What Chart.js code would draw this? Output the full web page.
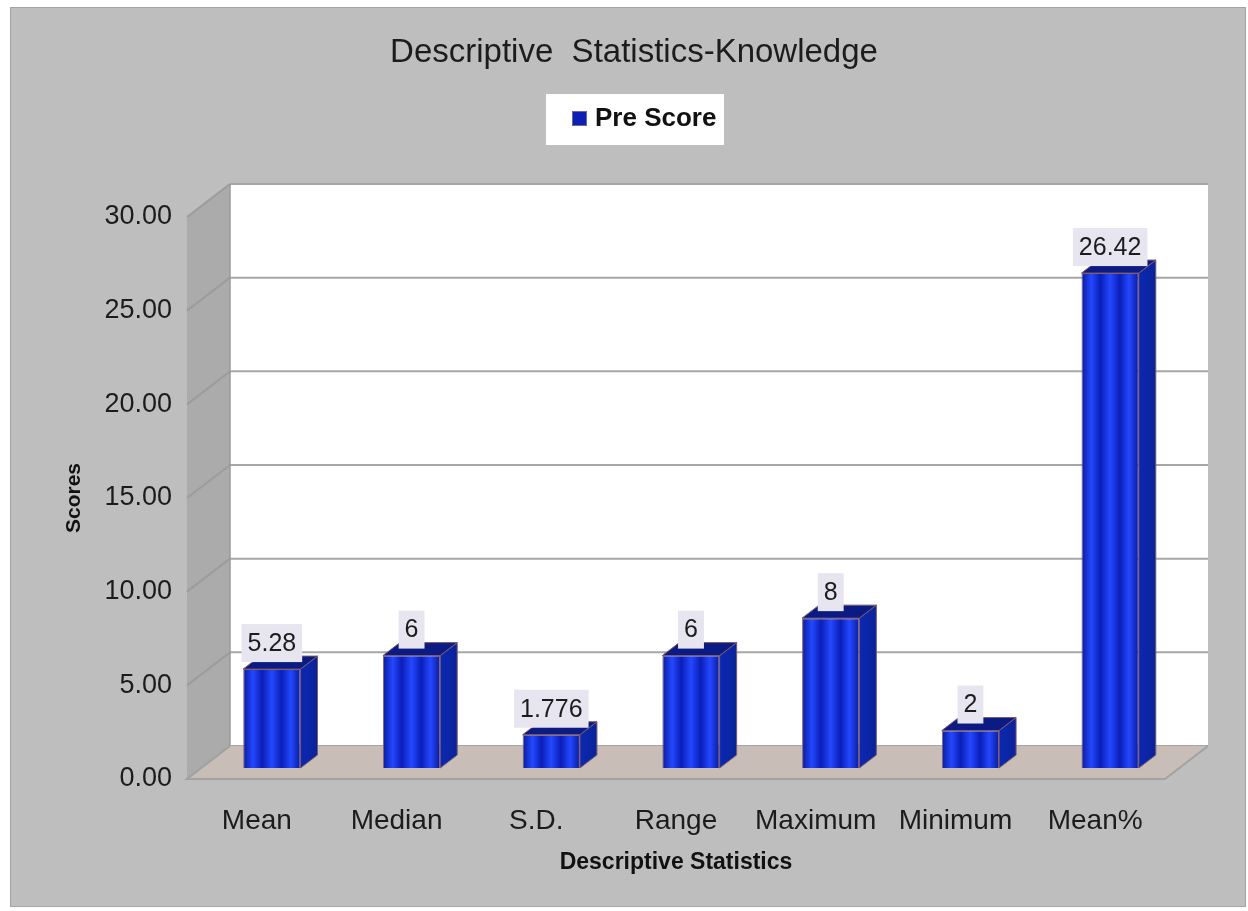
<!DOCTYPE html>
<html>
<head>
<meta charset="utf-8">
<title>Descriptive Statistics-Knowledge</title>
<script src="https://cdn.jsdelivr.net/npm/chart.js@4.4.1/dist/chart.umd.min.js"></script>
<style>
  html, body { margin: 0; padding: 0; background: #ffffff; }
  #wrap { width: 1248px; height: 911px; position: relative; }
</style>
</head>
<body>
<div id="wrap"><canvas id="chart"></canvas></div>
<script>
// ---- data ----
const categories = ['Mean', 'Median', 'S.D.', 'Range', 'Maximum', 'Minimum', 'Mean%'];
const preScore = [5.28, 6, 1.776, 6, 8, 2, 26.42];
const seriesName = 'Pre Score';
const yTickValues = [0, 5, 10, 15, 20, 25, 30];
const chartTitle = 'Descriptive  Statistics-Knowledge';
const xAxisTitle = 'Descriptive Statistics';
const yAxisTitle = 'Scores';

// ---- 3D look ----
const WALL_DX = 43, WALL_DY = 33;   // depth of the back wall behind the axis plane
const BAR_DX = 15, BAR_DY = 11;     // where the bar fronts sit inside the depth
const SIDE_DX = 17, SIDE_DY = 13;   // bar thickness
const BAR_PCT = 0.41;
const SANS = '"Liberation Sans", Arial, sans-serif';

function stripeFill(c) {
  const chart = c.chart;
  const xs = chart.scales && chart.scales.x;
  if (!xs || c.dataIndex === undefined) return '#1230d8';
  const cx = xs.getPixelForValue(c.dataIndex);
  const w = (xs.width / categories.length) * BAR_PCT;
  if (!isFinite(cx) || !isFinite(w) || w <= 0) return '#1230d8';
  const g = chart.ctx.createLinearGradient(cx - w / 2, 0, cx + w / 2, 0);
  g.addColorStop(0.00, '#0a1a9c');
  g.addColorStop(0.17, '#2448ff');
  g.addColorStop(0.33, '#0a1eb8');
  g.addColorStop(0.50, '#2448ff');
  g.addColorStop(0.67, '#0a1eb8');
  g.addColorStop(0.83, '#2448ff');
  g.addColorStop(1.00, '#0a1a9c');
  return g;
}

const depthPlugin = {
  id: 'depth3d',
  beforeDraw(chart) {
    const { ctx, width, height } = chart;
    ctx.save();
    ctx.fillStyle = '#ffffff';
    ctx.fillRect(0, 0, width, height);
    ctx.fillStyle = '#bebebe';
    ctx.fillRect(10, 7, 1236, 900);
    ctx.strokeStyle = '#a4a4a4';
    ctx.lineWidth = 1;
    ctx.strokeRect(10.5, 7.5, 1235, 899);

    // chart title
    ctx.fillStyle = '#1c1c1c';
    ctx.font = '33px ' + SANS;
    ctx.textAlign = 'center';
    ctx.textBaseline = 'middle';
    ctx.fillText(chartTitle, 634, 53);

    // legend box
    ctx.fillStyle = '#ffffff';
    ctx.fillRect(546, 94, 178, 51);
    ctx.fillStyle = '#0d1fb4';
    ctx.fillRect(572, 111, 15, 15);
    ctx.strokeStyle = '#6a6a9a';
    ctx.strokeRect(572.5, 111.5, 14, 14);
    ctx.fillStyle = '#111111';
    ctx.font = 'bold 26px ' + SANS;
    ctx.textAlign = 'left';
    ctx.fillText(seriesName, 595, 119);
    ctx.restore();
  },
  beforeDatasetsDraw(chart) {
    const { ctx, chartArea: a, scales: { y } } = chart;
    const top = y.getPixelForValue(30), bot = y.getPixelForValue(0);
    ctx.save();
    // side wall
    ctx.fillStyle = '#ababab';
    ctx.beginPath();
    ctx.moveTo(a.left, top);
    ctx.lineTo(a.left + WALL_DX, top - WALL_DY);
    ctx.lineTo(a.left + WALL_DX, bot - WALL_DY);
    ctx.lineTo(a.left, bot);
    ctx.closePath();
    ctx.fill();
    // back wall
    ctx.fillStyle = '#ffffff';
    ctx.fillRect(a.left + WALL_DX, top - WALL_DY, a.right - a.left, bot - top);
    // grid lines on both walls
    ctx.lineWidth = 2;
    yTickValues.forEach(v => {
      const py = y.getPixelForValue(v);
      ctx.strokeStyle = '#9c9c9c';
      ctx.beginPath();
      ctx.moveTo(a.left, py);
      ctx.lineTo(a.left + WALL_DX, py - WALL_DY);
      ctx.stroke();
      ctx.strokeStyle = '#a6a6a6';
      ctx.beginPath();
      ctx.moveTo(a.left + WALL_DX, py - WALL_DY);
      ctx.lineTo(a.right + WALL_DX, py - WALL_DY);
      ctx.stroke();
    });
    // wall edge
    ctx.strokeStyle = '#9a9a9a';
    ctx.lineWidth = 1.5;
    ctx.beginPath();
    ctx.moveTo(a.left + WALL_DX, top - WALL_DY);
    ctx.lineTo(a.left + WALL_DX, bot - WALL_DY);
    ctx.stroke();
    // floor
    ctx.fillStyle = '#c9bdb8';
    ctx.beginPath();
    ctx.moveTo(a.left, bot);
    ctx.lineTo(a.left + WALL_DX, bot - WALL_DY);
    ctx.lineTo(a.right + WALL_DX, bot - WALL_DY);
    ctx.lineTo(a.right, bot);
    ctx.closePath();
    ctx.fill();
    ctx.strokeStyle = '#a2a2a2';
    ctx.lineWidth = 2;
    ctx.beginPath();
    ctx.moveTo(a.left + WALL_DX, bot - WALL_DY);
    ctx.lineTo(a.left, bot);
    ctx.lineTo(a.right, bot);
    ctx.lineTo(a.right + WALL_DX, bot - WALL_DY);
    ctx.stroke();
    ctx.restore();

    // bars sit part-way into the depth
    ctx.save();
    ctx.translate(BAR_DX, -BAR_DY);
  },
  afterDatasetsDraw(chart) {
    const { ctx } = chart;
    const meta = chart.getDatasetMeta(0);
    meta.data.forEach(el => {
      const l = el.x - el.width / 2, r = el.x + el.width / 2;
      // right side
      const sg = ctx.createLinearGradient(r, 0, r + SIDE_DX, 0);
      sg.addColorStop(0, '#0c28b4');
      sg.addColorStop(1, '#0a2398');
      ctx.fillStyle = sg;
      ctx.beginPath();
      ctx.moveTo(r, el.y);
      ctx.lineTo(r + SIDE_DX, el.y - SIDE_DY);
      ctx.lineTo(r + SIDE_DX, el.base - SIDE_DY);
      ctx.lineTo(r, el.base);
      ctx.closePath();
      ctx.fill();
      ctx.strokeStyle = '#7a5a6a';
      ctx.lineWidth = 1;
      ctx.stroke();
      // top
      ctx.fillStyle = '#0c1b84';
      ctx.beginPath();
      ctx.moveTo(l, el.y);
      ctx.lineTo(l + SIDE_DX, el.y - SIDE_DY);
      ctx.lineTo(r + SIDE_DX, el.y - SIDE_DY);
      ctx.lineTo(r, el.y);
      ctx.closePath();
      ctx.fill();
      ctx.stroke();
    });
    ctx.restore();

    // value labels
    ctx.save();
    ctx.font = '25px ' + SANS;
    ctx.textAlign = 'center';
    ctx.textBaseline = 'middle';
    meta.data.forEach((el, i) => {
      const text = String(preScore[i]);
      const cx = el.x + BAR_DX;
      const cy = el.y - BAR_DY - 26;
      const w = ctx.measureText(text).width + 12;
      ctx.fillStyle = '#e7e5ef';
      ctx.fillRect(cx - w / 2, cy - 19, w, 38);
      ctx.fillStyle = '#1c1c1c';
      ctx.fillText(text, cx, cy + 1);
    });
    ctx.restore();
  }
};

new Chart(document.getElementById('chart'), {
  type: 'bar',
  data: {
    labels: categories,
    datasets: [{
      label: seriesName,
      data: preScore,
      backgroundColor: stripeFill,
      borderColor: '#8a6466',
      borderWidth: 1,
      barPercentage: BAR_PCT,
      categoryPercentage: 1
    }]
  },
  options: {
    responsive: true,
    maintainAspectRatio: false,
    animation: false,
    layout: { padding: { top: 217, left: 0, right: 83, bottom: 0 } },
    plugins: {
      legend: { display: false },
      title: { display: false },
      tooltip: { enabled: false }
    },
    scales: {
      x: {
        grid: { display: false, drawTicks: false },
        border: { display: false },
        ticks: { color: '#1c1c1c', font: { family: SANS, size: 28 }, padding: 25, maxRotation: 0 },
        title: {
          display: true, text: xAxisTitle, color: '#111111',
          font: { family: SANS, size: 23, weight: 'bold' },
          padding: { top: 0, bottom: 35 }
        },
        afterFit(scale) { scale.height = 132; }
      },
      y: {
        min: 0, max: 30,
        grid: { display: false, drawTicks: false },
        border: { display: false },
        afterBuildTicks(scale) { scale.ticks = yTickValues.map(v => ({ value: v })); },
        ticks: {
          color: '#1c1c1c', font: { family: SANS, size: 27 }, padding: 15,
          callback: v => Number(v).toFixed(2)
        },
        title: {
          display: true, text: yAxisTitle, color: '#111111',
          font: { family: SANS, size: 21, weight: 'bold' },
          padding: { top: 62, bottom: 0 }
        },
        afterFit(scale) { scale.width = 187; }
      }
    }
  },
  plugins: [depthPlugin]
});
</script>
</body>
</html>
